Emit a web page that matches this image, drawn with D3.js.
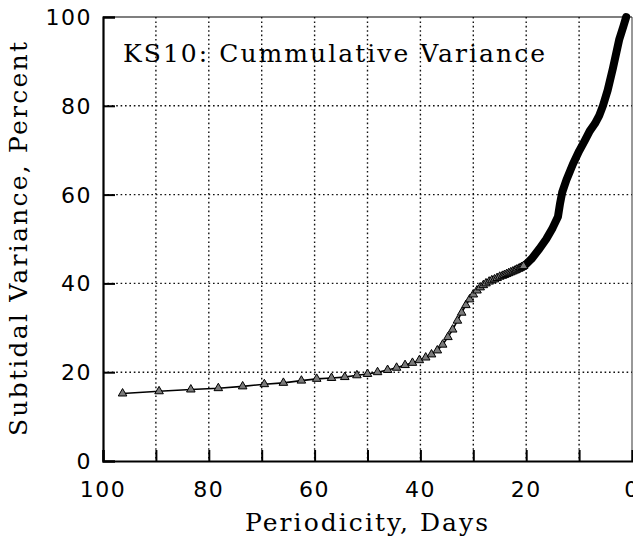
<!DOCTYPE html>
<html>
<head>
<meta charset="utf-8">
<script src="https://cdn.jsdelivr.net/npm/d3@7"></script>
<style>
  body { margin: 0; background: #fff; }
  svg { display: block; }
</style>
</head>
<body>
<svg id="chart" width="633" height="538"></svg>
<script>
// triangles: periodicity (days) and cumulative variance (%)
const markerPeriod = [96.3, 89.4, 83.4, 78.2, 73.6, 69.5, 65.9, 62.5, 59.6, 56.8,
  54.3, 52.0, 50.0, 48.1, 46.2, 44.5, 42.9, 41.5, 40.2, 39.0,
  37.9, 36.8, 35.8, 34.8, 33.9, 33.0, 32.2, 31.4, 30.7, 30.0,
  29.3, 28.7, 28.1, 27.6, 27.0, 26.5, 26.0, 25.5, 25.0, 24.5,
  24.1, 23.7, 23.3, 22.9, 22.5, 22.1, 21.8, 21.4, 21.1, 20.8, 20.5];
const markerVariance = [15.2, 15.7, 16.1, 16.4, 16.8, 17.3, 17.6, 18.1, 18.5, 18.7,
  18.9, 19.3, 19.6, 20.0, 20.5, 21.0, 21.6, 22.1, 22.7, 23.3,
  24.0, 24.9, 26.2, 27.9, 29.6, 31.6, 33.4, 35.1, 36.4, 37.5,
  38.4, 39.1, 39.6, 40.0, 40.4, 40.7, 40.9, 41.2, 41.5, 41.7,
  41.9, 42.1, 42.3, 42.5, 42.7, 42.9, 43.1, 43.3, 43.5, 43.7, 43.9];

// short periods: markers overlap into a solid band
const bandPeriod = [21.5, 20.3, 19.0, 17.5, 16.2, 15.0, 14.0, 13.6, 13.2, 12.4,
  11.2, 10.0, 9.0, 8.0, 7.0, 6.2, 5.5, 4.6, 3.6, 2.4, 1.6, 1.1];
const bandVariance = [43.3, 44.0, 45.5, 47.8, 50.0, 52.5, 55.0, 58.0, 60.5, 63.3,
  66.8, 69.8, 72.0, 74.3, 76.0, 77.8, 80.0, 83.5, 88.5, 95.0, 98.0, 100.0];

const xTicks = [100, 80, 60, 40, 20, 0];
const xGrid = [90, 80, 70, 60, 50, 40, 30, 20, 10];
const yTicks = [0, 20, 40, 60, 80, 100];
const yGrid = [20, 40, 60, 80];

const svg = d3.select("#chart");
const plotL = 103, plotR = 632, plotT = 17, plotB = 461;

const x = d3.scaleLinear().domain([100, 0]).range([plotL, plotR]);
const y = d3.scaleLinear().domain([0, 100]).range([plotB, plotT]);

// dotted grid
const grid = svg.append("g").attr("stroke", "#111").attr("stroke-width", 1.4)
  .attr("stroke-dasharray", "1.6,2.8");
grid.selectAll("line.gx").data(xGrid).enter().append("line")
  .attr("x1", d => x(d)).attr("x2", d => x(d))
  .attr("y1", plotT).attr("y2", plotB);
grid.selectAll("line.gy").data(yGrid).enter().append("line")
  .attr("x1", plotL).attr("x2", plotR)
  .attr("y1", d => y(d)).attr("y2", d => y(d));

// frame
svg.append("line").attr("x1", plotL).attr("x2", plotR).attr("y1", plotT).attr("y2", plotT)
  .attr("stroke", "#000").attr("stroke-width", 1.2);
svg.append("line").attr("x1", plotR).attr("x2", plotR).attr("y1", plotT).attr("y2", plotB)
  .attr("stroke", "#333").attr("stroke-width", 1);

// axes with inward ticks
const xAxis = svg.append("g").attr("transform", `translate(0,${plotB})`)
  .call(d3.axisBottom(x).tickValues(xGrid.concat([100])).tickSize(-11).tickFormat(""));
const yAxis = svg.append("g").attr("transform", `translate(${plotL},0)`)
  .call(d3.axisLeft(y).tickValues(yTicks).tickSize(-12).tickFormat(""));
[xAxis, yAxis].forEach(a => {
  a.select(".domain").attr("stroke", "#000").attr("stroke-width", 2.2);
  a.selectAll(".tick line").attr("stroke", "#000").attr("stroke-width", 2);
});

// tick labels
const tickFont = "'DejaVu Sans', sans-serif";
svg.append("g").selectAll("text").data(xTicks).enter().append("text")
  .attr("x", d => x(d)).attr("y", 497)
  .attr("text-anchor", "middle")
  .attr("font-family", tickFont).attr("font-size", 22).attr("letter-spacing", 1.5)
  .text(d => d);
svg.append("g").selectAll("text").data(yTicks).enter().append("text")
  .attr("x", 92).attr("y", d => y(d) + 8)
  .attr("text-anchor", "end")
  .attr("font-family", tickFont).attr("font-size", 22).attr("letter-spacing", 1.5)
  .text(d => d);

// curve
const line = d3.line().x(d => x(d[0])).y(d => y(d[1]));
const markers = markerPeriod.map((p, i) => [p, markerVariance[i]]);
const band = bandPeriod.map((p, i) => [p, bandVariance[i]]);

svg.append("path").datum(markers)
  .attr("d", line).attr("fill", "none").attr("stroke", "#000").attr("stroke-width", 1.6);
svg.append("path").datum(band)
  .attr("d", line).attr("fill", "none").attr("stroke", "#000")
  .attr("stroke-width", 8).attr("stroke-linejoin", "round").attr("stroke-linecap", "round");

const tri = d3.symbol(d3.symbolTriangle).size(32);
svg.append("g").selectAll("path").data(markers).enter().append("path")
  .attr("transform", d => `translate(${x(d[0])},${y(d[1])})`)
  .attr("d", tri).attr("fill", "#7a7a7a").attr("stroke", "#000").attr("stroke-width", 1);

// text
const serif = "'DejaVu Serif', serif";
svg.append("text").attr("x", 123).attr("y", 62)
  .attr("font-family", serif).attr("font-size", 25)
  .attr("textLength", 422).attr("lengthAdjust", "spacing")
  .text("KS10: Cummulative Variance");
svg.append("text").attr("x", 245).attr("y", 531)
  .attr("font-family", serif).attr("font-size", 25)
  .attr("textLength", 243).attr("lengthAdjust", "spacing")
  .text("Periodicity, Days");
svg.append("text")
  .attr("transform", "translate(27,436) rotate(-90)")
  .attr("font-family", serif).attr("font-size", 25)
  .attr("textLength", 394).attr("lengthAdjust", "spacing")
  .text("Subtidal Variance, Percent");
</script>
</body>
</html>
